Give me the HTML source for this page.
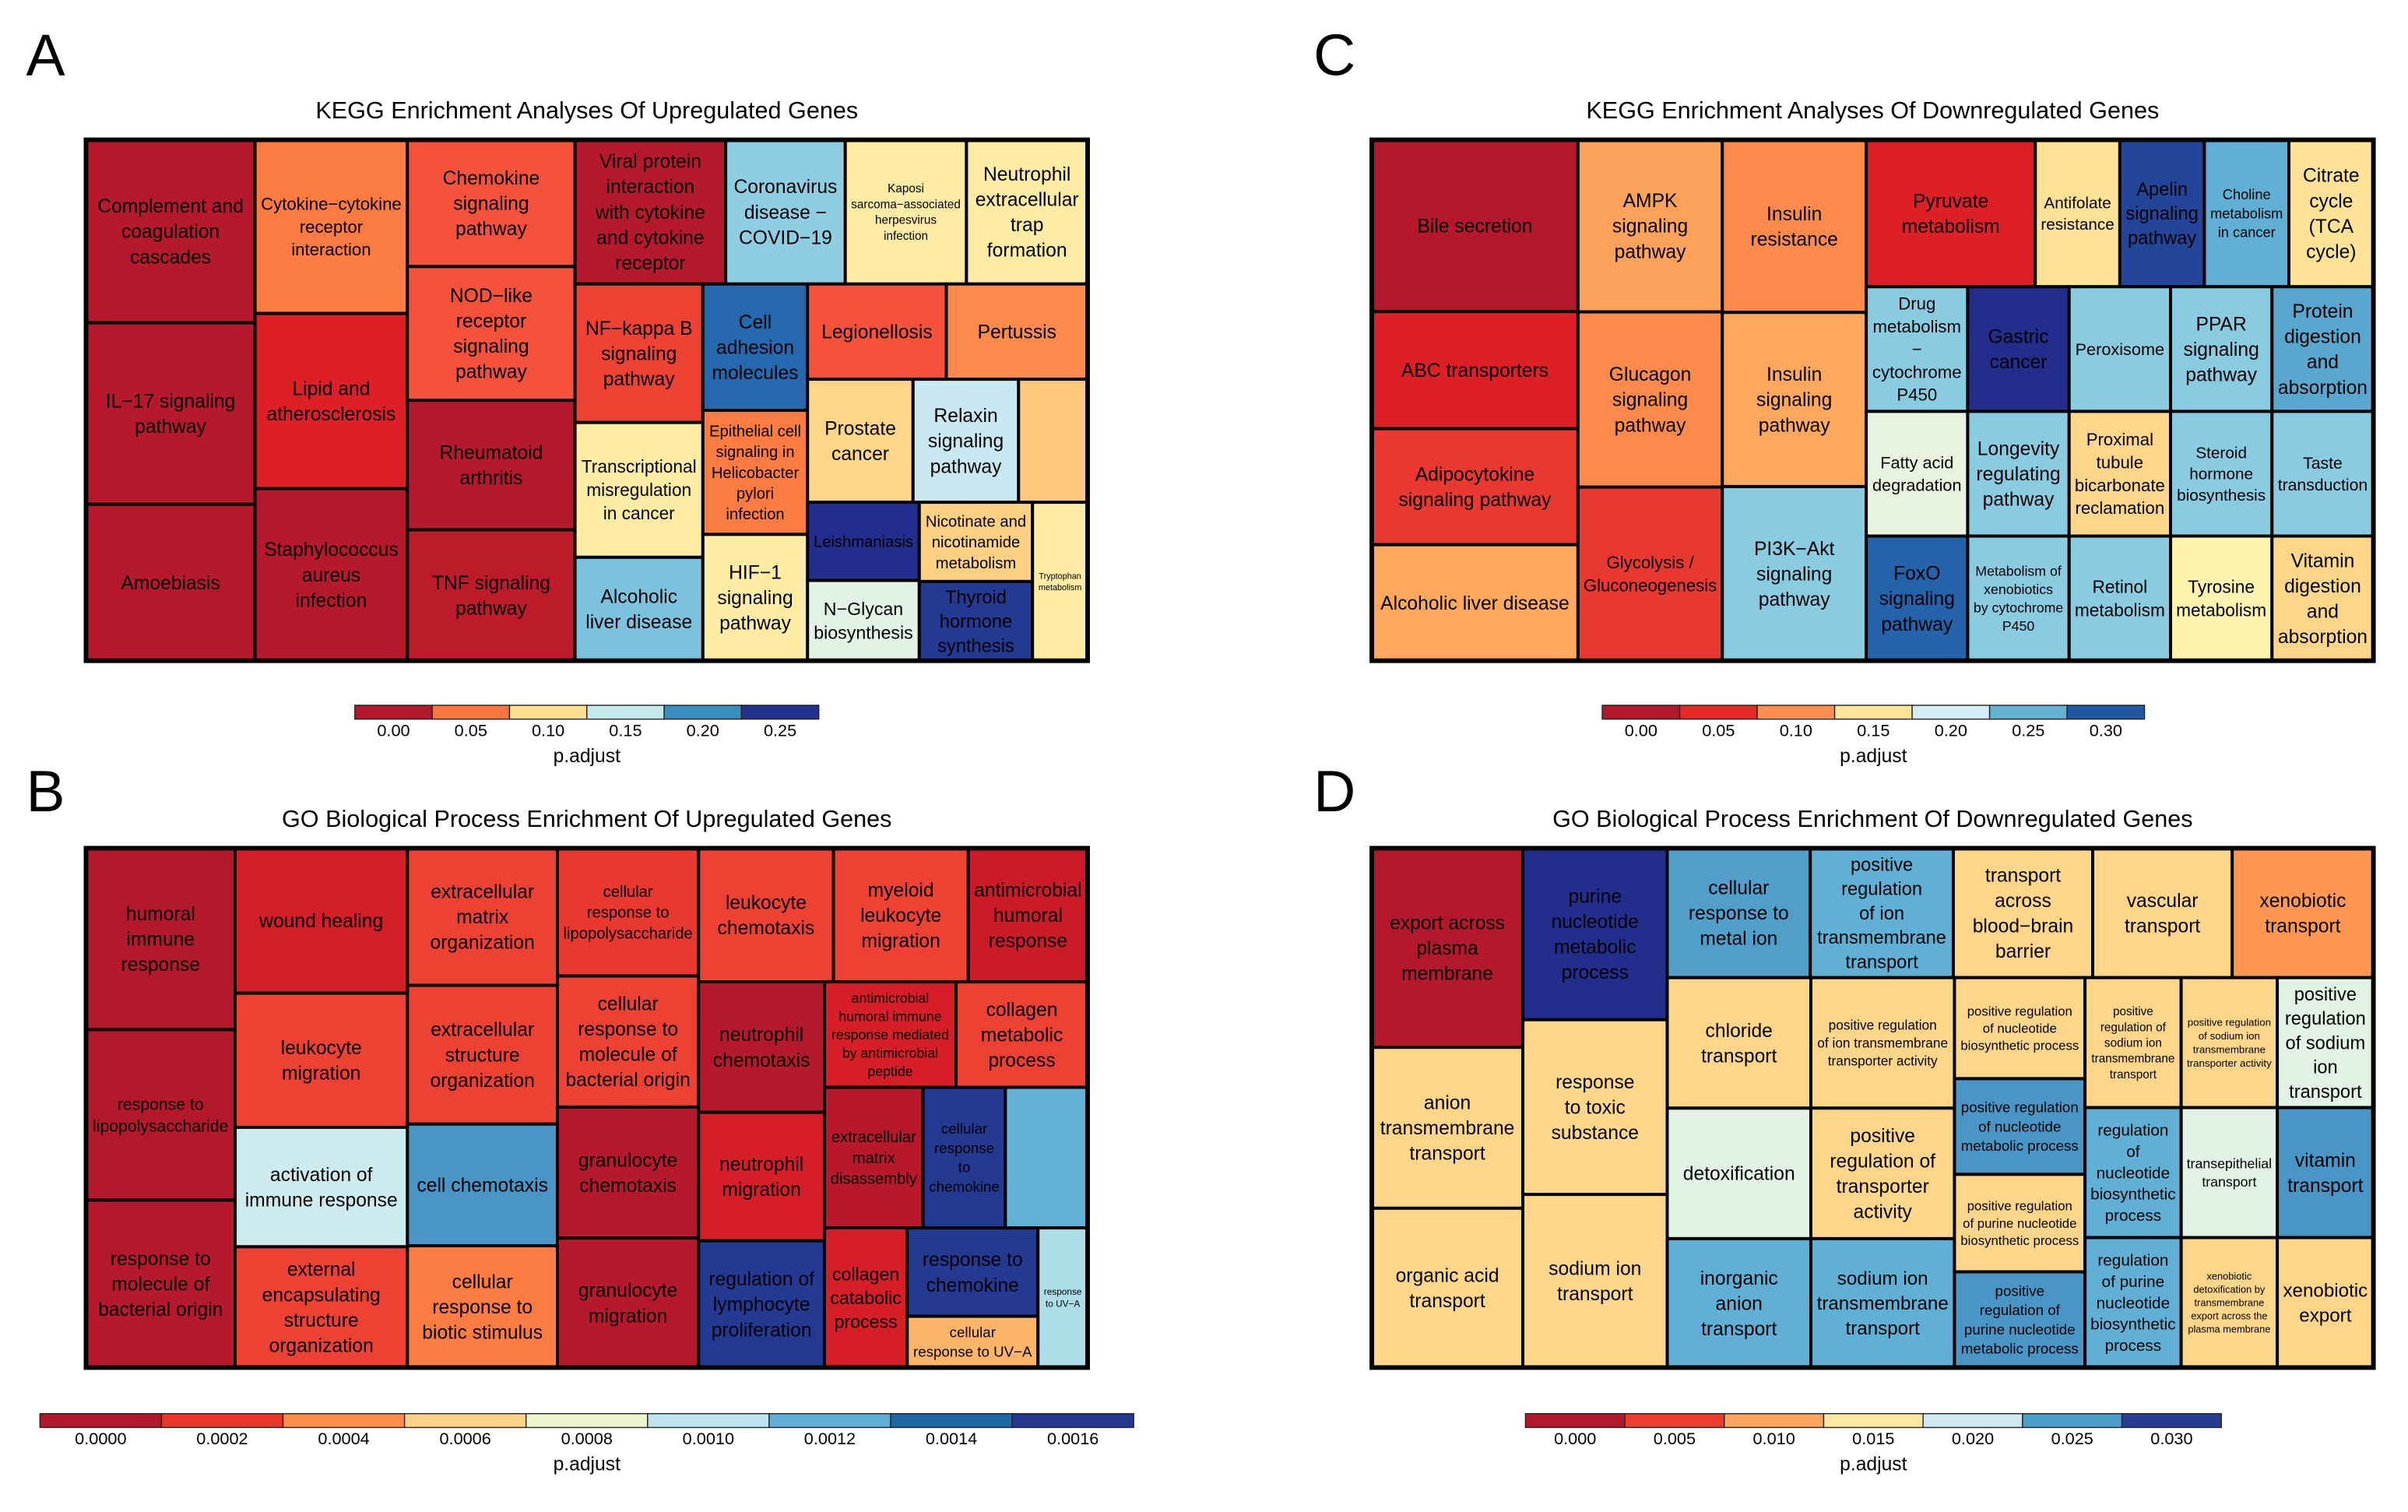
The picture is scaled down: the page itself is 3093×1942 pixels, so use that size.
<!DOCTYPE html>
<html><head><meta charset="utf-8">
<style>
html,body{margin:0;padding:0;background:#fff;}
svg{display:block;}
text{font-family:"Liberation Sans",Arial,sans-serif;fill:#000;}
</style></head>
<body>
<svg id="fig" xmlns="http://www.w3.org/2000/svg" width="3093" height="1942" viewBox="0 0 1567.5 984" preserveAspectRatio="none">
<rect x="0" y="0" width="1567.5" height="984" fill="#fff"/>
<text x="17" y="49" font-size="38">A</text>
<text x="17" y="528" font-size="38">B</text>
<text x="855" y="49" font-size="38">C</text>
<text x="855" y="528" font-size="38">D</text>
<text x="382" y="77" font-size="15.5" text-anchor="middle">KEGG Enrichment Analyses Of Upregulated Genes</text>
<text x="382" y="538" font-size="15.5" text-anchor="middle">GO Biological Process Enrichment Of Upregulated Genes</text>
<text x="1219" y="77" font-size="15.5" text-anchor="middle">KEGG Enrichment Analyses Of Downregulated Genes</text>
<text x="1219" y="538" font-size="15.5" text-anchor="middle">GO Biological Process Enrichment Of Downregulated Genes</text>
<g id="cells"></g>
<g id="legends"></g>
</svg>
<script>
// ---------- Panel A data ----------
const aLabels = ["Complement and|coagulation|cascades","IL−17 signaling|pathway","Amoebiasis","Cytokine−cytokine|receptor|interaction","Lipid and|atherosclerosis","Staphylococcus|aureus|infection","Chemokine|signaling|pathway","NOD−like|receptor|signaling|pathway","Rheumatoid|arthritis","TNF signaling|pathway","Viral protein|interaction|with cytokine|and cytokine|receptor","Coronavirus|disease −|COVID−19","Kaposi|sarcoma−associated|herpesvirus|infection","Neutrophil|extracellular|trap|formation","NF−kappa B|signaling|pathway","Transcriptional|misregulation|in cancer","Alcoholic|liver disease","Cell|adhesion|molecules","Epithelial cell|signaling in|Helicobacter|pylori|infection","HIF−1|signaling|pathway","Legionellosis","Pertussis","Prostate|cancer","Relaxin|signaling|pathway","","Leishmaniasis","N−Glycan|biosynthesis","Nicotinate and|nicotinamide|metabolism","Thyroid|hormone|synthesis","Tryptophan|metabolism"];
const aSizes = [131,130,112,112,113,111,90,95,92,93,92,73,74,74,75,73,56,56,55,56,56,57,55,55,36,37,38,38,38,37];
const aPvals = [0.003,0.003,0.003,0.083,0.038,0.003,0.063,0.063,0.003,0.010,0.003,0.188,0.133,0.133,0.055,0.133,0.195,0.225,0.083,0.133,0.063,0.090,0.120,0.170,0.115,0.250,0.155,0.118,0.245,0.133];
const aTree = ['h',[['v',[0,1,2]],['v',[3,4,5]],['v',[6,7,8,9]],['v',[['h',[10,11,12,13]],['h',[['v',[14,15,16]],['v',[17,18,19]],['v',[['h',[20,21]],['h',[22,23,24]],['h',[['v',[25,26]],['v',[27,28]],29]]]]]]]]]];
const aPmax = 0.25;
const aLegendTicks = ["0.00","0.05","0.10","0.15","0.20","0.25"];
const aLegendColors = ["#b2182b","#fc7540","#fee090","#c5e8ef","#3a8fc0","#23318f"];

// ---------- Panel B data ----------
const bLabels = ["humoral|immune|response","response to|lipopolysaccharide","response to|molecule of|bacterial origin","wound healing","leukocyte|migration","activation of|immune response","external|encapsulating|structure|organization","extracellular|matrix|organization","extracellular|structure|organization","cell chemotaxis","cellular|response to|biotic stimulus","cellular|response to|lipopolysaccharide","cellular|response to|molecule of|bacterial origin","granulocyte|chemotaxis","granulocyte|migration","leukocyte|chemotaxis","myeloid|leukocyte|migration","antimicrobial|humoral|response","neutrophil|chemotaxis","neutrophil|migration","regulation of|lymphocyte|proliferation","antimicrobial|humoral immune|response mediated|by antimicrobial|peptide","collagen|metabolic|process","extracellular|matrix|disassembly","cellular|response|to|chemokine","","collagen|catabolic|process","response to|chemokine","cellular|response to UV−A","response|to UV−A"];
const bSizes = [117,110,108,108,100,89,90,89,90,79,79,78,80,80,79,78,78,69,71,70,69,60,60,60,50,50,50,50,29,30];
const bPvals = [0.00001,0.00001,0.00002,0.00019,0.00035,0.00107,0.00035,0.00035,0.00035,0.00136,0.00053,0.00032,0.00035,0.00002,0.00002,0.00035,0.00035,0.00013,0.00002,0.0002,0.00157,0.0002,0.00035,0.00003,0.00157,0.00131,0.0002,0.00157,0.00069,0.00114];
const bTree = ['h',[['v',[0,1,2]],['v',[3,4,5,6]],['v',[7,8,9,10]],['v',[11,12,13,14]],['v',[['h',[15,16,17]],['h',[['v',[18,19,20]],['v',[['h',[21,22]],['h',[23,24,25]],['h',[26,['v',[27,28]],29]]]]]]]]]];
const bPmax = 0.0016;
const bLegendTicks = ["0.0000","0.0002","0.0004","0.0006","0.0008","0.0010","0.0012","0.0014","0.0016"];
const bLegendColors = ["#b2182b","#e8372a","#fc8d4a","#fdd38a","#eef5cc","#bde4ef","#5fafd6","#1f68a6","#26378f"];

// ---------- Panel C data ----------
const cLabels = ["Bile secretion","ABC transporters","Adipocytokine|signaling pathway","Alcoholic liver disease","AMPK|signaling|pathway","Glucagon|signaling|pathway","Glycolysis /|Gluconeogenesis","Insulin|resistance","Insulin|signaling|pathway","PI3K−Akt|signaling|pathway","Pyruvate|metabolism","Antifolate|resistance","Apelin|signaling|pathway","Choline|metabolism|in cancer","Citrate|cycle|(TCA|cycle)","Drug|metabolism|−|cytochrome|P450","Gastric|cancer","Peroxisome","PPAR|signaling|pathway","Protein|digestion|and|absorption","Fatty acid|degradation","Longevity|regulating|pathway","Proximal|tubule|bicarbonate|reclamation","Steroid|hormone|biosynthesis","Taste|transduction","FoxO|signaling|pathway","Metabolism of|xenobiotics|by cytochrome|P450","Retinol|metabolism","Tyrosine|metabolism","Vitamin|digestion|and|absorption"];
const cSizes = [154,105,104,104,108,110,109,108,109,109,108,54,54,54,54,55,55,55,55,55,55,55,55,55,55,55,55,55,55,55];
const cPvals = [0.003,0.045,0.060,0.123,0.120,0.108,0.060,0.108,0.123,0.228,0.045,0.150,0.288,0.246,0.150,0.228,0.300,0.228,0.228,0.249,0.183,0.228,0.144,0.228,0.228,0.273,0.228,0.228,0.168,0.144];
const cTree = ['h',[['v',[0,1,2,3]],['v',[4,5,6]],['v',[7,8,9]],['v',[['h',[10,11,12,13,14]],['h',[['v',[15,20,25]],['v',[16,21,26]],['v',[17,22,27]],['v',[18,23,28]],['v',[19,24,29]]]]]]]];
const cPmax = 0.30;
const cLegendTicks = ["0.00","0.05","0.10","0.15","0.20","0.25","0.30"];
const cLegendColors = ["#b2182b","#e62a25","#fd9050","#fee496","#d4ecf4","#63b3d3","#1f58a0"];

// ---------- Panel D data ----------
const dLabels = ["export across|plasma|membrane","anion|transmembrane|transport","organic acid|transport","purine|nucleotide|metabolic|process","response|to toxic|substance","sodium ion|transport","cellular|response to|metal ion","positive|regulation|of ion|transmembrane|transport","transport|across|blood−brain|barrier","vascular|transport","xenobiotic|transport","chloride|transport","detoxification","inorganic|anion|transport","positive regulation|of ion transmembrane|transporter activity","positive|regulation of|transporter|activity","sodium ion|transmembrane|transport","positive regulation|of nucleotide|biosynthetic process","positive regulation|of nucleotide|metabolic process","positive regulation|of purine nucleotide|biosynthetic process","positive|regulation of|purine nucleotide|metabolic process","positive|regulation of|sodium ion|transmembrane|transport","positive regulation|of sodium ion|transmembrane|transporter activity","positive|regulation|of sodium|ion|transport","regulation|of|nucleotide|biosynthetic|process","transepithelial|transport","vitamin|transport","regulation|of purine|nucleotide|biosynthetic|process","xenobiotic|detoxification by|transmembrane|export across the|plasma membrane","xenobiotic|export"];
const dSizes = [130,105,104,107,109,108,80,80,78,78,79,81,81,80,81,81,80,57,54,55,54,54,54,54,54,54,54,54,54,54];
const dPvals = [0.0003,0.0144,0.0144,0.030,0.0144,0.0144,0.0252,0.0246,0.0144,0.0144,0.0114,0.0144,0.0186,0.0246,0.0144,0.0144,0.0246,0.0144,0.0255,0.0144,0.0255,0.0144,0.0144,0.0186,0.0246,0.0186,0.0255,0.0246,0.0144,0.0144];
const dTree = ['h',[['v',[0,1,2]],['v',[3,4,5]],['v',[['h',[6,7,8,9,10]],['h',[['v',[11,12,13]],['v',[14,15,16]],['v',[17,18,19,20]],['v',[['h',[21,22,23]],['h',[24,25,26]],['h',[27,28,29]]]]]]]]]];
const dPmax = 0.030;
const dLegendTicks = ["0.000","0.005","0.010","0.015","0.020","0.025","0.030"];
const dLegendColors = ["#b2182b","#ee3d2c","#fda45c","#fee8a0","#cfe8f2","#4d9dcb","#263d94"];

// ---------- rendering ----------
const NS = "http://www.w3.org/2000/svg";
const paletteT = [0,0.15,0.25,0.33,0.42,0.5,0.56,0.62,0.68,0.75,0.82,0.9,1];
const paletteC = ["#b2182b","#dd1f26","#f4513a","#fc7a40","#fdae61","#fee397","#fff3b0","#e2f3e6","#c8e9f1","#90cfe2","#5fb0d4","#2468ad","#232e8c"];
function hex(c){return [parseInt(c.slice(1,3),16),parseInt(c.slice(3,5),16),parseInt(c.slice(5,7),16)];}
function colorFor(p,pmax){
  let t=Math.max(0,Math.min(1,p/pmax));
  for(let i=0;i<paletteT.length-1;i++){
    if(t<=paletteT[i+1]){
      const f=(t-paletteT[i])/(paletteT[i+1]-paletteT[i]);
      const a=hex(paletteC[i]),b=hex(paletteC[i+1]);
      return "rgb("+a.map((v,k)=>Math.round(v+(b[k]-v)*f)).join(",")+")";
    }
  }
  return paletteC[paletteC.length-1];
}
function sumNode(n,sizes){return typeof n==="number"?sizes[n]:n[1].reduce((s,c)=>s+sumNode(c,sizes),0);}
const cv=document.createElement("canvas").getContext("2d");
function fitFont(lines,w,h){
  let fs=12.5;
  while(fs>4){
    cv.font=fs+'px "Liberation Sans", Arial, sans-serif';
    const mw=Math.max(...lines.map(l=>cv.measureText(l).width));
    if(mw<=w-7 && lines.length*fs*1.32<=h-4) break;
    fs-=0.25;
  }
  return fs;
}
const cellsG=document.getElementById("cells");
function drawLeaf(panel,i,x,y,w,h,labels,pvals,pmax){
  const r=document.createElementNS(NS,"rect");
  r.setAttribute("x",x);r.setAttribute("y",y);r.setAttribute("width",w);r.setAttribute("height",h);
  r.setAttribute("fill",colorFor(pvals[i],pmax));
  r.setAttribute("stroke","#000");r.setAttribute("stroke-width","2");
  
  
  cellsG.appendChild(r);
  const label=labels[i];
  if(!label) return;
  const lines=label.split("|");
  const fs=fitFont(lines,w,h);
  const lh=fs*1.32;
  const t=document.createElementNS(NS,"text");
  t.setAttribute("font-size",fs);
  t.setAttribute("text-anchor","middle");
  
  
  const cy=y+h/2-(lines.length-1)*lh/2+fs*0.35;
  lines.forEach((l,k)=>{
    const ts=document.createElementNS(NS,"tspan");
    ts.setAttribute("x",x+w/2);ts.setAttribute("y",cy+k*lh);
    ts.textContent=l;t.appendChild(ts);
  });
  cellsG.appendChild(t);
}
function layout(panel,node,x,y,w,h,sizes,labels,pvals,pmax){
  if(typeof node==="number"){drawLeaf(panel,node,x,y,w,h,labels,pvals,pmax);return;}
  const dir=node[0],kids=node[1],tot=sumNode(node,sizes);
  let off=0;
  kids.forEach(k=>{
    const f=sumNode(k,sizes)/tot;
    if(dir==="h"){layout(panel,k,x+off*w,y,w*f,h,sizes,labels,pvals,pmax);}
    else{layout(panel,k,x,y+off*h,w,h*f,sizes,labels,pvals,pmax);}
    off+=f;
  });
}
function panel(name,tree,x,y,w,h,sizes,labels,pvals,pmax){
  layout(name,tree,x,y,w,h,sizes,labels,pvals,pmax);
  const o=document.createElementNS(NS,"rect");
  o.setAttribute("x",x);o.setAttribute("y",y);o.setAttribute("width",w);o.setAttribute("height",h);
  o.setAttribute("fill","none");o.setAttribute("stroke","#000");o.setAttribute("stroke-width","3");
  
  
  cellsG.appendChild(o);
}
panel("a",aTree,56,91,652,339,aSizes,aLabels,aPvals,aPmax);
panel("b",bTree,56,552,652,338,bSizes,bLabels,bPvals,bPmax);
panel("c",cTree,893,91,652,339,cSizes,cLabels,cPvals,cPmax);
panel("d",dTree,893,552,652,338,dSizes,dLabels,dPvals,dPmax);

const legG=document.getElementById("legends");
function legend(x0,x1,y,ticks,colors,fs){
  const n=colors.length,bw=(x1-x0)/n;
  colors.forEach((c,i)=>{
    const r=document.createElementNS(NS,"rect");
    r.setAttribute("x",x0+i*bw);r.setAttribute("y",y);r.setAttribute("width",bw);r.setAttribute("height",9);
    r.setAttribute("fill",c);r.setAttribute("stroke","#222");r.setAttribute("stroke-width","0.7");
    
    
    legG.appendChild(r);
    const t=document.createElementNS(NS,"text");
    t.setAttribute("x",x0+(i+0.5)*bw);t.setAttribute("y",y+20);
    t.setAttribute("font-size",fs);t.setAttribute("text-anchor","middle");
    t.setAttribute("fill","#222");
    
    
    t.textContent=ticks[i];legG.appendChild(t);
  });
  const tt=document.createElementNS(NS,"text");
  tt.setAttribute("x",(x0+x1)/2);tt.setAttribute("y",y+37);
  tt.setAttribute("font-size",12.5);tt.setAttribute("text-anchor","middle");
  
  
  tt.textContent="p.adjust";legG.appendChild(tt);
}
legend(231,533,459,aLegendTicks,aLegendColors,11);
legend(26,738,920,bLegendTicks,bLegendColors,11);
legend(1043,1396,459,cLegendTicks,cLegendColors,11);
legend(993,1446,920,dLegendTicks,dLegendColors,11);
</script>
</body></html>
